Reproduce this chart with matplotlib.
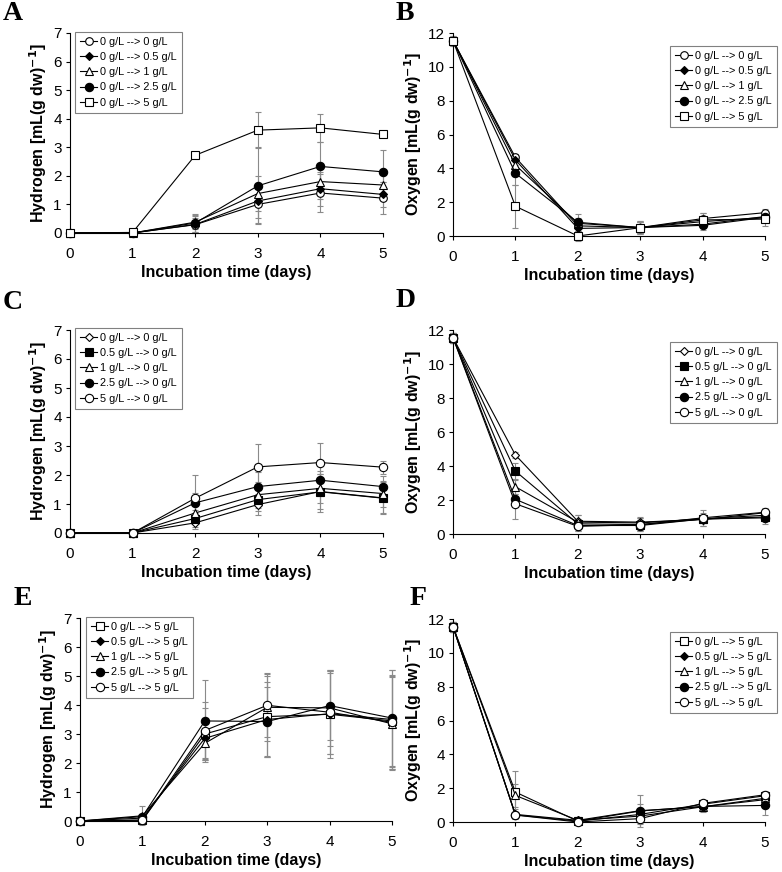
import matplotlib
matplotlib.use("Agg")
import matplotlib.pyplot as plt

plt.rcParams['font.family'] = ['Liberation Sans', 'DejaVu Sans']

days = [0, 1, 2, 3, 4, 5]

# ---- panel A: hydrogen, 0 g/L -> x ----
a_labels = ["0 g/L --> 0 g/L", "0 g/L --> 0.5 g/L", "0 g/L --> 1 g/L",
            "0 g/L --> 2.5 g/L", "0 g/L --> 5 g/L"]
a_vals = [[0, 0, 0.29, 1.00, 1.40, 1.22],
          [0, 0, 0.30, 1.12, 1.55, 1.35],
          [0, 0, 0.38, 1.38, 1.80, 1.68],
          [0, 0, 0.35, 1.65, 2.33, 2.14],
          [0, 0.02, 2.72, 3.60, 3.68, 3.45]]
a_err = [[0, 0, 0.25, 0.65, 0.68, 0.55],
         [0, 0, 0.30, 0.60, 0.60, 0.45],
         [0, 0, 0.25, 0.60, 0.60, 0.50],
         [0, 0, 0.30, 1.35, 0.84, 0.75],
         [0, 0, 0.08, 0.62, 0.50, 0.10]]

# ---- panel B: oxygen, 0 g/L -> x ----
b_vals = [[11.55, 4.65, 0.60, 0.50, 1.03, 1.38],
          [11.55, 4.50, 0.45, 0.50, 0.70, 1.15],
          [11.55, 4.20, 0.75, 0.50, 0.85, 1.10],
          [11.55, 3.71, 0.81, 0.50, 0.63, 1.10],
          [11.55, 1.76, 0.00, 0.49, 0.95, 1.00]]
b_err = [[0.3, 0.20, 0.3, 0.3, 0.35, 0.20],
         [0.2, 0.30, 0.3, 0.3, 0.20, 0.20],
         [0.2, 0.40, 0.3, 0.3, 0.30, 0.30],
         [0.2, 0.70, 0.5, 0.4, 0.25, 0.25],
         [0.3, 1.27, 0.3, 0.4, 0.40, 0.38]]

# ---- panel C: hydrogen, x -> 0 g/L ----
c_labels = ["0 g/L --> 0 g/L", "0.5 g/L --> 0 g/L", "1 g/L --> 0 g/L",
            "2.5 g/L --> 0 g/L", "5 g/L --> 0 g/L"]
c_vals = [[0, 0, 0.35, 0.98, 1.43, 1.21],
          [0, 0, 0.50, 1.15, 1.42, 1.20],
          [0, 0, 0.69, 1.32, 1.54, 1.36],
          [0, 0, 1.04, 1.60, 1.82, 1.60],
          [0, 0, 1.20, 2.28, 2.43, 2.27]]
c_err = [[0, 0, 0.20, 0.35, 0.72, 0.55],
         [0, 0, 0.30, 0.40, 0.60, 0.50],
         [0, 0, 0.30, 0.45, 0.50, 0.45],
         [0, 0, 0.35, 0.50, 0.55, 0.35],
         [0, 0, 0.80, 0.80, 0.68, 0.23]]

# ---- panel D: oxygen, x -> 0 g/L ----
d_vals = [[11.55, 4.65, 0.75, 0.70, 0.85, 1.25],
          [11.55, 3.70, 0.60, 0.55, 0.88, 1.00],
          [11.55, 2.78, 0.70, 0.65, 0.90, 1.10],
          [11.55, 2.04, 0.50, 0.50, 0.88, 0.95],
          [11.55, 1.78, 0.45, 0.55, 0.95, 1.28]]
d_err = [[0.3, 0.15, 0.35, 0.3, 0.40, 0.25],
         [0.3, 0.45, 0.30, 0.3, 0.20, 0.20],
         [0.3, 0.40, 0.40, 0.3, 0.20, 0.30],
         [0.3, 0.30, 0.30, 0.3, 0.20, 0.35],
         [0.3, 0.90, 0.30, 0.4, 0.45, 0.25]]

# ---- panel E: hydrogen, x -> 5 g/L ----
e_labels = ["0 g/L --> 5 g/L", "0.5 g/L --> 5 g/L", "1 g/L --> 5 g/L",
            "2.5 g/L --> 5 g/L", "5 g/L --> 5 g/L"]
e_vals = [[0, 0.03, 3.00, 3.60, 3.68, 3.45],
          [0, 0.10, 2.85, 3.50, 3.70, 3.50],
          [0, 0.18, 2.68, 3.92, 3.90, 3.35],
          [0, 0.15, 3.45, 3.43, 3.98, 3.55],
          [0, 0.03, 3.12, 3.99, 3.75, 3.40]]
e_err = [[0, 0.05, 0.9, 1.40, 1.50, 1.60],
         [0, 0.10, 0.7, 1.30, 1.40, 1.70],
         [0, 0.33, 0.5, 1.15, 1.30, 1.60],
         [0, 0.10, 1.4, 1.20, 1.20, 1.65],
         [0, 0.05, 1.0, 1.10, 1.45, 1.60]]

# ---- panel F: oxygen, x -> 5 g/L ----
f_vals = [[11.55, 1.77, 0.05, 0.45, 1.05, 1.55],
          [11.55, 0.45, 0.10, 0.67, 0.90, 1.32],
          [11.55, 1.57, 0.10, 0.35, 0.90, 1.40],
          [11.55, 0.42, 0.05, 0.65, 0.92, 0.98],
          [11.55, 0.41, 0.00, 0.20, 1.10, 1.61]]
f_err = [[0.3, 1.25, 0.2, 0.40, 0.20, 0.25],
         [0.3, 0.30, 0.2, 0.40, 0.25, 0.30],
         [0.3, 0.70, 0.2, 0.40, 0.20, 0.30],
         [0.3, 0.20, 0.2, 0.95, 0.30, 0.58],
         [0.3, 0.20, 0.2, 0.30, 0.20, 0.20]]

# marker styles (marker, filled, size)
sty_ab = [('o', False, 5.5), ('D', True, 4), ('^', False, 5.5), ('o', True, 6), ('s', False, 5.5)]
sty_cd = [('D', False, 4.5), ('s', True, 5.5), ('^', False, 5.5), ('o', True, 6), ('o', False, 6)]
sty_ef = [('s', False, 5.5), ('D', True, 4), ('^', False, 5.5), ('o', True, 6), ('o', False, 6)]

W, H = 782, 872
fig = plt.figure(figsize=(W / 100, H / 100), dpi=100)


def px_rect(x0, y0, x1, y1):
    return [x0 / W, 1 - y1 / H, (x1 - x0) / W, (y1 - y0) / H]


def panel(rect, vals, errs, styles, labels, ymax, ystep, ylabel, leg_xy, letter, letter_xy):
    ax = fig.add_axes(px_rect(*rect))
    for v, e in zip(vals, errs):
        ax.errorbar(days, v, yerr=e, fmt='none', ecolor='#8a8a8a', elinewidth=0.8,
                    capsize=2, capthick=0.8, clip_on=False, zorder=2)
    for v, (m, filled, ms), lab in zip(vals, styles, labels):
        ax.plot(days, v, color='black', lw=0.8, marker=m, ms=ms, mew=0.8,
                mfc='black' if filled else 'white', mec='black', label=lab,
                clip_on=False, zorder=3)
    ax.set_xlim(0, 5)
    ax.set_ylim(0, ymax)
    ax.set_xticks(days)
    ax.set_yticks(range(0, ymax + 1, ystep))
    for s in ['top', 'right']:
        ax.spines[s].set_visible(False)
    ax.tick_params(direction='out', length=3, width=0.8, labelsize=11, pad=3)
    ax.tick_params(axis='x', pad=7)
    ax.set_xlabel("Incubation time (days)", fontsize=11.5, fontweight='bold', labelpad=3)
    ax.set_ylabel(ylabel, fontsize=11.5, fontweight='bold', labelpad=3)
    leg = ax.legend(loc='upper left', bbox_to_anchor=(leg_xy[0] / W, 1 - leg_xy[1] / H),
                    bbox_transform=fig.transFigure, fontsize=7.8, frameon=True,
                    fancybox=False, edgecolor='#808080', framealpha=1,
                    handlelength=1.6, handletextpad=0.3, labelspacing=0.48,
                    borderpad=0.45, borderaxespad=0)
    leg.get_frame().set_linewidth(0.8)
    fig.text(letter_xy[0] / W, 1 - letter_xy[1] / H, letter, fontsize=20,
             fontweight='bold', family='Liberation Serif', va='top', ha='left')
    return ax


h_lab = r"Hydrogen [mL(g dw)$^{\mathbf{-1}}$]"
o_lab = r"Oxygen [mL(g dw)$^{\mathbf{-1}}$]"

panel((70, 33, 383, 233), a_vals, a_err, sty_ab, a_labels, 7, 1, h_lab, (75, 32), 'A', (3, 1))
panel((453, 33, 765, 236), b_vals, b_err, sty_ab, a_labels, 12, 2, o_lab, (670, 46), 'B', (396, 1))
panel((70, 330, 383, 533), c_vals, c_err, sty_cd, c_labels, 7, 1, h_lab, (75, 328), 'C', (3, 290))
panel((453, 330, 765, 534), d_vals, d_err, sty_cd, c_labels, 12, 2, o_lab, (670, 342), 'D', (396, 288))
panel((80, 618, 392, 821), e_vals, e_err, sty_ef, e_labels, 7, 1, h_lab, (86, 617), 'E', (14, 586))
panel((453, 619, 765, 822), f_vals, f_err, sty_ef, e_labels, 12, 2, o_lab, (670, 632), 'F', (410, 586))

fig.savefig("out.png", dpi=100, facecolor='white')
